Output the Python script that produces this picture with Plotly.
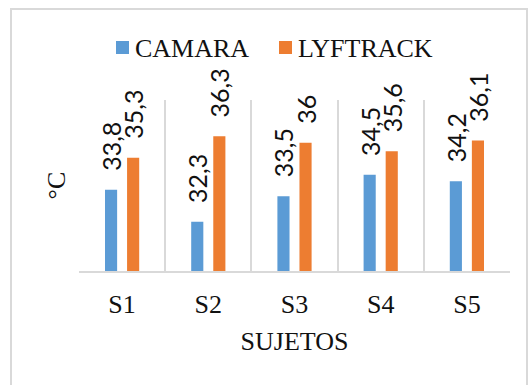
import plotly.graph_objects as go

# Temperatures per subject (°C)
sujetos = ["S1", "S2", "S3", "S4", "S5"]
camara = [33.8, 32.3, 33.5, 34.5, 34.2]
lyftrack = [35.3, 36.3, 36.0, 35.6, 36.1]
series_names = ["CAMARA", "LYFTRACK"]

BLUE = "#5B9BD5"
ORANGE = "#ED7D31"
GRID = "#D9D9D9"
INK = "#111111"
SERIF = "Liberation Serif, Times New Roman, serif"
SANS = "Lato, Calibri, Carlito, sans-serif"

# plot area in pixels: x 79..510, y 100..271
L, R, T, B = 79, 510, 100, 271
W, H = 528, 385


def px_x(px):
    return (px - L) / (R - L)


def px_y(py):
    return 1 - (py - T) / (B - T)


def fmt(v):
    s = f"{v:.1f}".rstrip("0").rstrip(".")
    return s.replace(".", ",")


def series(name, values, color):
    return go.Bar(
        name=name,
        x=sujetos,
        y=values,
        marker=dict(color=color, line=dict(width=0)),
        # leading spaces keep the rotated label clear of the bar end
        text=["\u00a0\u00a0\u2009" + fmt(v) for v in values],
        textposition="outside",
        textangle=-90,
        constraintext="none",
        cliponaxis=False,
        textfont=dict(family=SANS, size=25, color=INK),
        hoverinfo="skip",
        showlegend=False,
    )


fig = go.Figure([
    series(series_names[0], camara, BLUE),
    series(series_names[1], lyftrack, ORANGE),
])

# legend drawn as swatches + labels above the plot
legend_items = [(series_names[0], BLUE, 116), (series_names[1], ORANGE, 279)]
shapes = [
    dict(
        type="rect", xref="paper", yref="paper",
        x0=px_x(11), x1=px_x(527), y0=px_y(400), y1=px_y(9),
        line=dict(color=GRID, width=2), layer="below",
    )
]
annotations = []
for name, color, sx in legend_items:
    shapes.append(dict(
        type="rect", xref="paper", yref="paper",
        x0=px_x(sx), x1=px_x(sx + 13), y0=px_y(54), y1=px_y(41),
        fillcolor=color, line=dict(width=0),
    ))
    annotations.append(dict(
        xref="paper", yref="paper", x=px_x(sx + 17), y=px_y(48),
        xanchor="left", yanchor="middle", showarrow=False,
        text=name, font=dict(family=SERIF, size=26, color=INK),
    ))

fig.update_layout(
    width=W,
    height=H,
    margin=dict(l=L, r=W - R, t=T, b=H - B),
    paper_bgcolor="white",
    plot_bgcolor="white",
    barmode="group",
    bargap=0.488,
    bargroupgap=0.45,
    showlegend=False,
    xaxis=dict(
        type="category",
        tickson="boundaries",
        showgrid=True,
        gridcolor=GRID,
        gridwidth=1.5,
        ticks="",
        showline=True,
        linecolor=GRID,
        linewidth=2,
        tickfont=dict(family=SERIF, size=26, color=INK),
        ticklabelstandoff=9,
        title=dict(text="SUJETOS", font=dict(family=SERIF, size=26, color=INK), standoff=14),
        automargin=False,
    ),
    yaxis=dict(
        range=[30, 38],
        showticklabels=False,
        showgrid=False,
        zeroline=False,
        showline=False,
        ticks="",
        title=dict(text="°C", font=dict(family=SERIF, size=26, color=INK), standoff=4),
        automargin=False,
    ),
    shapes=shapes,
    annotations=annotations,
)

fig.write_html("out.html")
